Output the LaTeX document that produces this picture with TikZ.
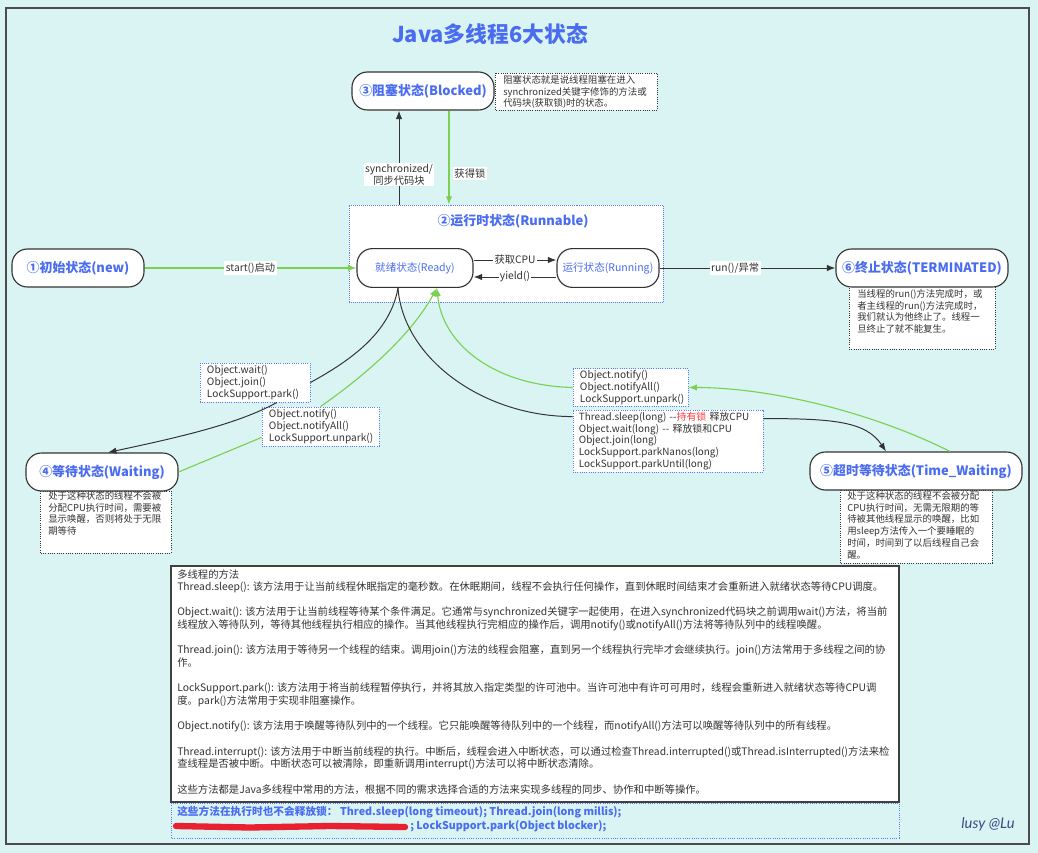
\documentclass[tikz,border=0pt]{standalone}
\usepackage{fontspec}
\setmainfont{Noto Sans CJK SC}
\newfontfamily\signfont{Lato}
\usetikzlibrary{arrows.meta, calc}
\definecolor{bgcyan}{HTML}{DAF4F4}
\definecolor{stateblue}{HTML}{4A6CF0}
\definecolor{linegreen}{HTML}{7AD150}
\definecolor{linedark}{HTML}{333333}
\definecolor{textgray}{HTML}{333333}
\definecolor{boxblue}{HTML}{5A7CF2}
\definecolor{lockred}{HTML}{FF3B3B}
\definecolor{scribred}{HTML}{E8202F}
\definecolor{signblue}{HTML}{3A4B86}

\begin{document}
\begin{tikzpicture}[x=0.025cm, y=-0.025cm,
    statebox/.style={draw=linedark, fill=white, line width=0.8pt, rounded corners=11pt, minimum height=0.95cm, text=stateblue, font=\fontsize{9.2}{11}\selectfont\bfseries},
    phasebox/.style={statebox, font=\fontsize{7.5}{9}\selectfont, minimum height=0.97cm},
    notebox/.style={draw=black!80, densely dotted, fill=white, line width=0.6pt},
    notetext/.style={anchor=north west, inner sep=0pt, align=left, text=textgray, font=\fontsize{6.7}{8.4}\selectfont},
    callbox/.style={draw=boxblue, densely dotted, fill=white, line width=0.6pt, align=left, text=textgray, inner xsep=0.175cm, inner ysep=0.05cm, font=\fontsize{7.2}{8.3}\selectfont},
    edgelabel/.style={fill=white, inner sep=1pt, text=textgray, font=\fontsize{7.3}{8.5}\selectfont},
    blk/.style={draw=linedark, line width=0.7pt},
    grn/.style={draw=linegreen, line width=0.8pt},
    arr/.style={-{Latex[length=6pt, width=4.5pt]}}
]
% canvas and frame
\fill[bgcyan] (0,0) rectangle (1038,853);
\draw[draw=black!70, line width=1.1pt] (6,8) rectangle (1029,844);

\node (title) at (490,34) [text=stateblue, font=\fontsize{15.5}{18}\selectfont\bfseries] {Java多线程6大状态};

% runnable container
\node (runbox) [draw=boxblue, densely dotted, fill=white, minimum width=7.85cm, minimum height=2.425cm, inner sep=0pt] at (506,253.5) {};
\node (runtitle) at (513,221) [text=stateblue, font=\fontsize{9.2}{11}\selectfont\bfseries] {②运行时状态(Runnable)};

% notes
\draw[notebox] (495,73) rectangle (657,110);
\node (blockednote) [notetext] at (503,75) {阻塞状态就是说线程阻塞在进入\\synchronized关键字修饰的方法或\\代码块(获取锁)时的状态。};
\draw[notebox] (849,286) rectangle (995,349);
\node (termnote) [notetext] at (857,289) {当线程的run()方法完成时，或\\者主线程的run()方法完成时，\\我们就认为他终止了。线程一\\旦终止了就不能复生。};
\draw[notebox] (40,491) rectangle (171,553);
\node (waitnote) [notetext] at (48,491) {处于这种状态的线程不会被\\分配CPU执行时间，需要被\\显示唤醒，否则将处于无限\\期等待};
\draw[notebox] (840,490) rectangle (992,563);
\node (timednote) [notetext] at (847,491) {处于这种状态的线程不会被分配\\CPU执行时间，无需无限期的等\\待被其他线程显示的唤醒，比如\\用sleep方法传入一个要睡眠的\\时间，时间到了以后线程自己会\\醒。};

% states
\node (new) [statebox, minimum width=3.3cm] at (78,268) {①初始状态(new)};
\node (ready) [phasebox, minimum width=2.9cm] at (415,268) {就绪状态(Ready)};
\node (running) [phasebox, minimum width=2.55cm] at (608,268) {运行状态(Running)};
\node (blocked) [statebox, minimum width=3.55cm] at (423,91) {③阻塞状态(Blocked)};
\node (terminated) [statebox, minimum width=4.3cm] at (922,268) {⑥终止状态(TERMINATED)};
\node (waiting) [statebox, minimum width=3.8cm] at (102,472) {④等待状态(Waiting)};
\node (timed) [statebox, minimum width=5.3cm] at (916,471) {⑤超时等待状态(Time\_Waiting)};

% call boxes
\node (waitcall) [callbox, text width=2.4cm, minimum height=0.975cm] at (255,382.5) {Object.wait()\\Object.join()\\LockSupport.park()};
\node (notifycall) [callbox, text width=2.575cm, minimum height=0.975cm] at (320.5,426.5) {Object.notify()\\Object.notifyAll()\\LockSupport.unpark()};
\node (notifytimed) [callbox, text width=2.525cm, minimum height=0.925cm] at (630.5,387.5) {Object.notify()\\Object.notifyAll()\\LockSupport.unpark()};
\node (sleepcall) [callbox, inner xsep=0.15cm, text width=4.45cm, minimum height=1.55cm, font=\fontsize{7.05}{8.3}\selectfont] at (668,441) {Thread.sleep(long) -{}-\textcolor{lockred}{持有锁} 释放CPU\\Object.wait(long) -{}- 释放锁和CPU\\Object.join(long)\\LockSupport.parkNanos(long)\\LockSupport.parkUntil(long)};

% connectors
\draw[grn, arr] (new.east) -- (ready.west) node[edgelabel, midway] {start()启动};
\draw[blk, arr] ($(ready.east)+(0,-8)$) -- ($(running.west)+(0,-8)$) node[edgelabel, midway] {获取CPU};
\draw[blk, arr] ($(running.west)+(0,9)$) -- ($(ready.east)+(0,9)$) node[edgelabel, midway] {yield()};
\draw[blk, arr] (running.east) -- (terminated.west) node[edgelabel, pos=0.43] {run()/异常};
\draw[blk, arr] ($(runbox.north)+(-107,0)$) -- ($(blocked.south)+(-24,0)$) node[edgelabel, pos=0.32, align=center] {synchronized/\\同步代码块};
\draw[grn, arr] ($(blocked.south)+(26,0)$) -- ($(runbox.north)+(-57,0)$) node[edgelabel, pos=0.67, right=2.5pt] {获得锁};

\draw[blk] ($(ready.south)+(-17,0)$) .. controls +(-8,45) and +(40,-22) .. (waitcall.east);
\draw[blk, arr] ($(waitcall.south)+(22,0)$) .. controls +(-40,22) and +(70,-15) .. ($(waiting.north)+(6,0)$);
\draw[grn] (waiting.east) -- ($(notifycall.south west)+(0,-9)$);
\draw[grn, arr] (notifycall.north) .. controls +(50,-35) and +(-25,45) .. ($(ready.south)+(22,0)$);
\draw[blk] ($(ready.south)+(-17,0)$) .. controls +(5,70) and +(-90,0) .. ($(sleepcall.north west)+(0,7)$);
\draw[blk, arr] ($(sleepcall.north east)+(0,9)$) .. controls +(70,0) and +(-20,-30) .. ($(timed.north)+(-30,0)$);
\draw[grn, arr] ($(timed.north)+(34,0)$) .. controls +(-80,-40) and +(80,0) .. (notifytimed.east);
\draw[grn, arr] (notifytimed.west) .. controls +(-80,-2) and +(5,55) .. ($(ready.south)+(22,0)$);

% methods text
\draw[draw=black!75, fill=white, line width=0.8pt] (171,566) rectangle (899,802);
\node (methods) [anchor=north west, inner sep=0pt, align=left, text=textgray, font=\fontsize{7.35}{9}\selectfont] at (177,569) {多线程的方法\\
Thread.sleep(): 该方法用于让当前线程休眠指定的毫秒数。在休眠期间，线程不会执行任何操作，直到休眠时间结束才会重新进入就绪状态等待CPU调度。\\[9pt]
Object.wait(): 该方法用于让当前线程等待某个条件满足。它通常与synchronized关键字一起使用，在进入synchronized代码块之前调用wait()方法，将当前\\
线程放入等待队列，等待其他线程执行相应的操作。当其他线程执行完相应的操作后，调用notify()或notifyAll()方法将等待队列中的线程唤醒。\\[9pt]
Thread.join(): 该方法用于等待另一个线程的结束。调用join()方法的线程会阻塞，直到另一个线程执行完毕才会继续执行。join()方法常用于多线程之间的协\\
作。\\[9pt]
LockSupport.park(): 该方法用于将当前线程暂停执行，并将其放入指定类型的许可池中。当许可池中有许可可用时，线程会重新进入就绪状态等待CPU调\\
度。park()方法常用于实现非阻塞操作。\\[9pt]
Object.notify(): 该方法用于唤醒等待队列中的一个线程。它只能唤醒等待队列中的一个线程，而notifyAll()方法可以唤醒等待队列中的所有线程。\\[9pt]
Thread.interrupt(): 该方法用于中断当前线程的执行。中断后，线程会进入中断状态，可以通过检查Thread.interrupted()或Thread.isInterrupted()方法来检\\
查线程是否被中断。中断状态可以被清除，即重新调用interrupt()方法可以将中断状态清除。\\[9pt]
这些方法都是Java多线程中常用的方法，根据不同的需求选择合适的方法来实现多线程的同步、协作和中断等操作。};

% no-lock note
\draw[draw=boxblue, densely dotted, line width=0.6pt] (171,803) rectangle (899,838);
\node (nolock) [anchor=west, inner sep=0pt, text=stateblue, font=\fontsize{7.6}{9}\selectfont\bfseries] at (177,812) {这些方法在执行时也不会释放锁： Thred.sleep(long timeout); Thread.join(long millis);};
\draw[scribred, line width=4.5pt, line cap=round] (176,826) -- (250,827.5) -- (330,826) -- (405,827);
\node (nolockpark) [anchor=west, inner sep=0pt, text=stateblue, font=\fontsize{7.6}{9}\selectfont\bfseries] at (410,826) {; LockSupport.park(Object blocker);};

\node (sign) at (988,824) [text=signblue, font=\signfont\itshape\fontsize{10.5}{12}\selectfont] {lusy @Lu};
\end{tikzpicture}
\end{document}
